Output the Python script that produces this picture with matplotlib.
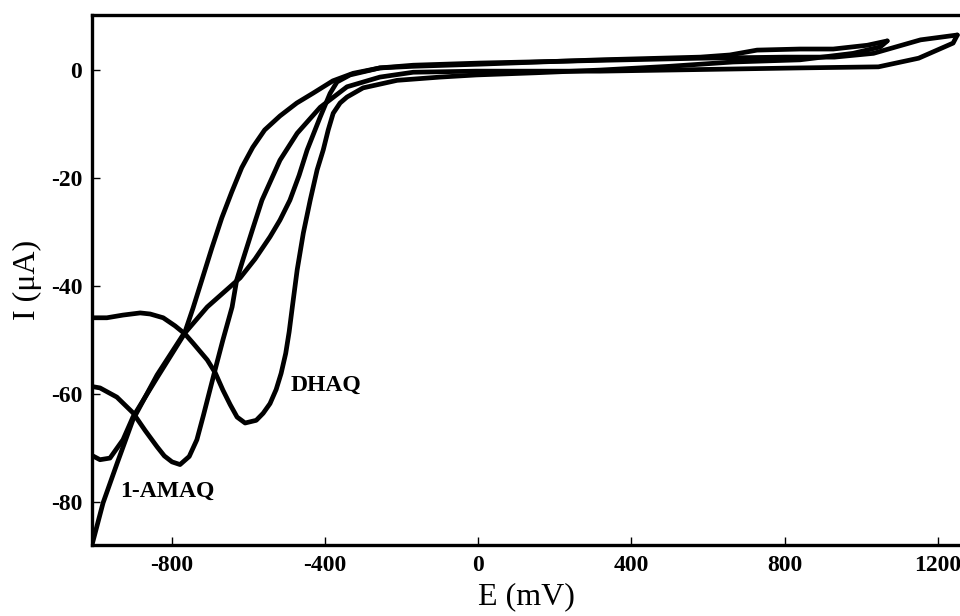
import matplotlib
matplotlib.use("Agg")
import matplotlib.pyplot as plt

plt.rcParams["font.family"] = ["Liberation Serif", "DejaVu Serif"]
plt.rcParams["axes.unicode_minus"] = False

# cathodic / anodic sweeps (E in mV, I in uA)
dhaq_cath_E = [1068, 1050, 979, 840, 665, 500, 318, 150, -5, -100, -212, -301, -343, -361,
               -379, -392, -405, -421, -439, -457, -473, -485, -494, -503, -515, -528, -544, -562,
               -580, -609, -630, -648, -667, -687, -708, -745, -766, -792, -823, -857, -883,
               -928, -970, -1012]
dhaq_cath_I = [5.4, 4.3, 3.1, 1.9, 1.5, 0.7, 0.0, -0.5, -0.9, -1.3, -1.9, -3.3, -5.0, -6.1,
               -8.0, -11.1, -14.8, -18.5, -24.1, -30.2, -37.0, -43.5, -48.5, -52.5, -56.2, -59.2, -61.8, -63.6,
               -64.9, -65.4, -64.3, -62.0, -59.3, -56.1, -53.7, -50.6, -48.9, -47.4, -45.9, -45.2, -45.0,
               -45.4, -45.9, -45.9]

dhaq_anod_E = [-1012, -988, -962, -928, -902, -839, -766, -708, -622, -583, -544, -518, -492, -468,
               -447, -413, -387, -369, -335, -257, -170, 5, 318, 580, 657, 728, 840, 927, 1016, 1068]
dhaq_anod_I = [-71.3, -72.2, -71.9, -68.5, -64.3, -57.0, -48.7, -43.9, -38.5, -35.0, -30.9, -27.8, -24.1, -19.5,
               -14.8, -8.7, -4.3, -2.2, -0.9, 0.4, 0.7, 1.1, 1.9, 2.4, 2.8, 3.7, 3.9, 3.9, 4.6, 5.4]

amaq_cath_E = [1251, 1240, 1150, 1045, 840, 665, 318, -5, -170, -257, -343, -413, -473, -518,
               -565, -590, -615, -631, -643, -667, -684, -701, -718, -735, -755, -779, -800,
               -820, -839, -870, -902, -944, -988, -1012]
amaq_cath_I = [6.5, 5.0, 2.2, 0.6, 0.4, 0.2, -0.2, -0.2, -0.4, -1.3, -3.1, -6.9, -11.7, -16.7,
               -24.1, -29.6, -35.2, -38.9, -43.9, -50.0, -54.6, -59.3, -64.0, -68.5, -71.6, -73.1, -72.6,
               -71.5, -69.8, -66.8, -63.5, -60.6, -58.9, -58.6]

amaq_anod_E = [-1015, -1009, -980, -943, -902, -839, -766, -745, -722, -696, -670, -644, -618,
               -589, -558, -518, -474, -432, -380, -327, -257, -170, 5, 318, 580, 800, 930, 1032,
               1155, 1251]
amaq_anod_I = [-92.0, -88.0, -80.2, -72.8, -64.8, -56.5, -48.5, -44.1, -38.9, -33.0, -27.4, -22.6, -18.1,
               -14.3, -11.1, -8.5, -6.1, -4.3, -2.0, -0.6, 0.4, 0.9, 1.3, 1.8, 2.2, 2.4, 2.4, 3.1,
               5.6, 6.5]

labels = {"DHAQ": (-491, -58.5), "1-AMAQ": (-936, -78.0)}

fig = plt.figure(figsize=(9.6, 6.16), dpi=100)
ax = fig.add_axes([0.0958, 0.1153, 0.9042, 0.8603])

for E, I in [(dhaq_cath_E, dhaq_cath_I), (dhaq_anod_E, dhaq_anod_I),
             (amaq_cath_E, amaq_cath_I), (amaq_anod_E, amaq_anod_I)]:
    ax.plot(E, I, color="black", lw=3.4, solid_joinstyle="round", solid_capstyle="round")

for txt, (x, y) in labels.items():
    ax.text(x, y, txt, fontsize=17, fontweight="bold", va="center", ha="left")

ax.set_xlim(-1009, 1258)
ax.set_ylim(-88, 10.2)
ax.set_xticks([-800, -400, 0, 400, 800, 1200])
ax.set_yticks([0, -20, -40, -60, -80])
ax.tick_params(direction="in", length=6, width=1, pad=7, labelsize=17)
for lab in ax.get_xticklabels() + ax.get_yticklabels():
    lab.set_fontweight("bold")
for s in ["left", "bottom", "top"]:
    ax.spines[s].set_linewidth(2.4)
ax.spines["right"].set_visible(False)

ax.set_xlabel("E (mV)", fontsize=23, labelpad=5)
ax.set_ylabel("I (\u03bcA)", fontsize=23, labelpad=6)

fig.savefig("out.png", dpi=100)
